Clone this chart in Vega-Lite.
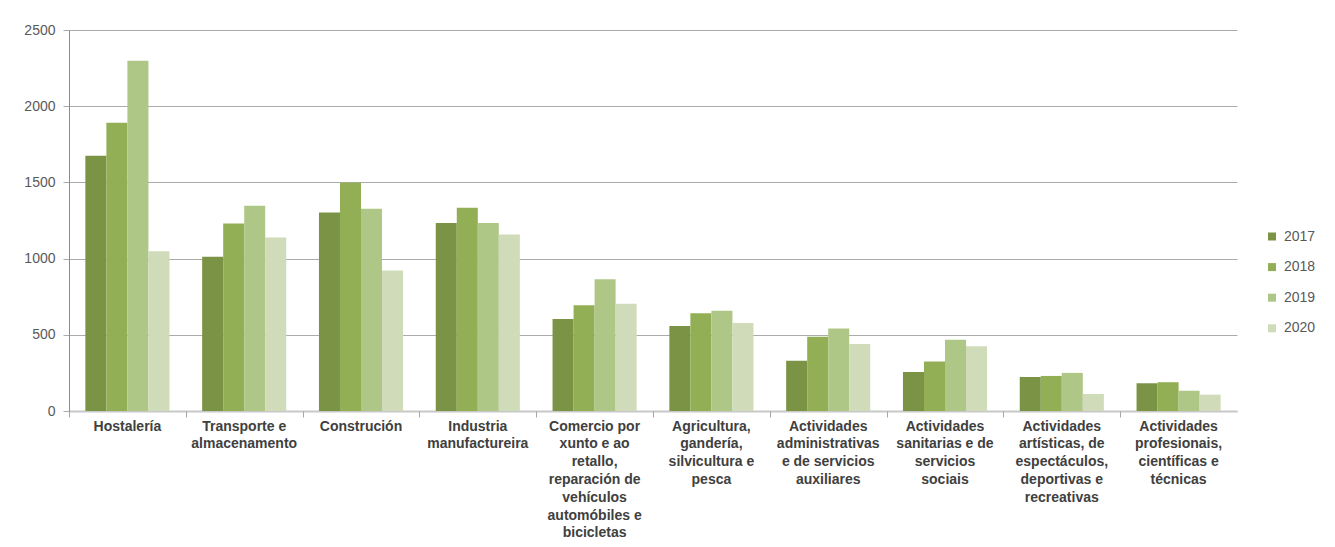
{
  "$schema": "https://vega.github.io/schema/vega-lite/v6.json",
  "autosize": {"type": "none"},
  "padding": {"left": 69, "top": 30, "right": 98, "bottom": 136},
  "width": 1168,
  "height": 381,
  "background": "white",
  "config": {"view": {"stroke": null}},
  "data": {"values": [
    {"sector": "Hostalería", "year": "2017", "value": 1675},
    {"sector": "Hostalería", "year": "2018", "value": 1892},
    {"sector": "Hostalería", "year": "2019", "value": 2299},
    {"sector": "Hostalería", "year": "2020", "value": 1048},
    {"sector": "Transporte e almacenamento", "year": "2017", "value": 1012},
    {"sector": "Transporte e almacenamento", "year": "2018", "value": 1231},
    {"sector": "Transporte e almacenamento", "year": "2019", "value": 1347},
    {"sector": "Transporte e almacenamento", "year": "2020", "value": 1139},
    {"sector": "Construción", "year": "2017", "value": 1303},
    {"sector": "Construción", "year": "2018", "value": 1500},
    {"sector": "Construción", "year": "2019", "value": 1327},
    {"sector": "Construción", "year": "2020", "value": 922},
    {"sector": "Industria manufactureira", "year": "2017", "value": 1233},
    {"sector": "Industria manufactureira", "year": "2018", "value": 1334},
    {"sector": "Industria manufactureira", "year": "2019", "value": 1233},
    {"sector": "Industria manufactureira", "year": "2020", "value": 1158},
    {"sector": "Comercio por xunto e ao retallo, reparación de vehículos automóbiles e bicicletas", "year": "2017", "value": 604},
    {"sector": "Comercio por xunto e ao retallo, reparación de vehículos automóbiles e bicicletas", "year": "2018", "value": 694},
    {"sector": "Comercio por xunto e ao retallo, reparación de vehículos automóbiles e bicicletas", "year": "2019", "value": 865},
    {"sector": "Comercio por xunto e ao retallo, reparación de vehículos automóbiles e bicicletas", "year": "2020", "value": 703},
    {"sector": "Agricultura, gandería, silvicultura e pesca", "year": "2017", "value": 558},
    {"sector": "Agricultura, gandería, silvicultura e pesca", "year": "2018", "value": 642},
    {"sector": "Agricultura, gandería, silvicultura e pesca", "year": "2019", "value": 657},
    {"sector": "Agricultura, gandería, silvicultura e pesca", "year": "2020", "value": 578},
    {"sector": "Actividades administrativas e de servicios auxiliares", "year": "2017", "value": 329},
    {"sector": "Actividades administrativas e de servicios auxiliares", "year": "2018", "value": 488},
    {"sector": "Actividades administrativas e de servicios auxiliares", "year": "2019", "value": 541},
    {"sector": "Actividades administrativas e de servicios auxiliares", "year": "2020", "value": 440},
    {"sector": "Actividades sanitarias e de servicios sociais", "year": "2017", "value": 256},
    {"sector": "Actividades sanitarias e de servicios sociais", "year": "2018", "value": 324},
    {"sector": "Actividades sanitarias e de servicios sociais", "year": "2019", "value": 467},
    {"sector": "Actividades sanitarias e de servicios sociais", "year": "2020", "value": 425},
    {"sector": "Actividades artísticas, de espectáculos, deportivas e recreativas", "year": "2017", "value": 223},
    {"sector": "Actividades artísticas, de espectáculos, deportivas e recreativas", "year": "2018", "value": 230},
    {"sector": "Actividades artísticas, de espectáculos, deportivas e recreativas", "year": "2019", "value": 250},
    {"sector": "Actividades artísticas, de espectáculos, deportivas e recreativas", "year": "2020", "value": 112},
    {"sector": "Actividades profesionais, científicas e técnicas", "year": "2017", "value": 182},
    {"sector": "Actividades profesionais, científicas e técnicas", "year": "2018", "value": 189},
    {"sector": "Actividades profesionais, científicas e técnicas", "year": "2019", "value": 133},
    {"sector": "Actividades profesionais, científicas e técnicas", "year": "2020", "value": 107}
  ]},
  "layer": [
    {
      "mark": {"type": "bar"},
      "encoding": {
        "x": {
          "field": "sector", "type": "nominal",
          "sort": ["Hostalería", "Transporte e almacenamento", "Construción", "Industria manufactureira", "Comercio por xunto e ao retallo, reparación de vehículos automóbiles e bicicletas", "Agricultura, gandería, silvicultura e pesca", "Actividades administrativas e de servicios auxiliares", "Actividades sanitarias e de servicios sociais", "Actividades artísticas, de espectáculos, deportivas e recreativas", "Actividades profesionais, científicas e técnicas"],
          "scale": {"paddingInner": 0.28, "paddingOuter": 0.14},
          "axis": {
            "orient": "bottom",
            "title": null,
            "ticks": false,
            "grid": false,
            "domain": true,
            "domainColor": "#C8C8C8",
            "domainWidth": 2,
            "labelAngle": 0,
            "labelBaseline": "top",
            "labelPadding": 8,
            "labelFont": "Liberation Sans",
            "labelFontWeight": "bold",
            "labelFontSize": 14,
            "labelColor": "#404040",
            "labelLineHeight": 17.8,
            "labelLimit": 300,
            "labelExpr": "{'Hostalería':['Hostalería'],'Transporte e almacenamento':['Transporte e','almacenamento'],'Construción':['Construción'],'Industria manufactureira':['Industria','manufactureira'],'Comercio por xunto e ao retallo, reparación de vehículos automóbiles e bicicletas':['Comercio por','xunto e ao','retallo,','reparación de','vehículos','automóbiles e','bicicletas'],'Agricultura, gandería, silvicultura e pesca':['Agricultura,','gandería,','silvicultura e','pesca'],'Actividades administrativas e de servicios auxiliares':['Actividades','administrativas','e de servicios','auxiliares'],'Actividades sanitarias e de servicios sociais':['Actividades','sanitarias e de','servicios','sociais'],'Actividades artísticas, de espectáculos, deportivas e recreativas':['Actividades','artísticas, de','espectáculos,','deportivas e','recreativas'],'Actividades profesionais, científicas e técnicas':['Actividades','profesionais,','científicas e','técnicas']}[datum.label]"
          }
        },
        "xOffset": {"field": "year", "type": "nominal", "scale": {"paddingInner": 0, "paddingOuter": 0}},
        "y": {
          "field": "value", "type": "quantitative",
          "scale": {"domain": [0, 2500], "nice": false},
          "axis": {
            "title": null,
            "values": [0, 500, 1000, 1500, 2000, 2500],
            "format": "d",
            "grid": true,
            "gridColor": "#ABABAB",
            "gridWidth": 1,
            "domain": true,
            "domainColor": "#8C8C8C",
            "ticks": true,
            "tickSize": 6,
            "tickColor": "#ABABAB",
            "labelFont": "Liberation Sans",
            "labelFontSize": 14,
            "labelColor": "#595959",
            "labelPadding": 8
          }
        },
        "color": {
          "field": "year", "type": "nominal",
          "scale": {"domain": ["2017", "2018", "2019", "2020"], "range": ["#7A9344", "#93AF56", "#AFC786", "#CFDBB9"]},
          "legend": {
            "title": null,
            "orient": "none",
            "legendX": 1196,
            "legendY": 199.5,
            "padding": 0,
            "symbolType": "square",
            "symbolSize": 64,
            "symbolStrokeWidth": 0,
            "labelFont": "Liberation Sans",
            "labelFontSize": 14,
            "labelColor": "#595959",
            "labelOffset": 5,
            "rowPadding": 16.6
          }
        }
      }
    },
    {
      "mark": {"type": "tick", "opacity": 0},
      "encoding": {
        "x": {
          "field": "sector", "type": "nominal",
          "sort": ["Hostalería", "Transporte e almacenamento", "Construción", "Industria manufactureira", "Comercio por xunto e ao retallo, reparación de vehículos automóbiles e bicicletas", "Agricultura, gandería, silvicultura e pesca", "Actividades administrativas e de servicios auxiliares", "Actividades sanitarias e de servicios sociais", "Actividades artísticas, de espectáculos, deportivas e recreativas", "Actividades profesionais, científicas e técnicas"],
          "axis": {
            "orient": "bottom",
            "title": null,
            "labels": false,
            "domain": false,
            "grid": false,
            "ticks": true,
            "tickSize": 6,
            "tickColor": "#A6A6A6",
            "bandPosition": 0,
            "tickOffset": -16.35
          }
        }
      }
    }
  ],
  "resolve": {"axis": {"x": "independent"}}
}
